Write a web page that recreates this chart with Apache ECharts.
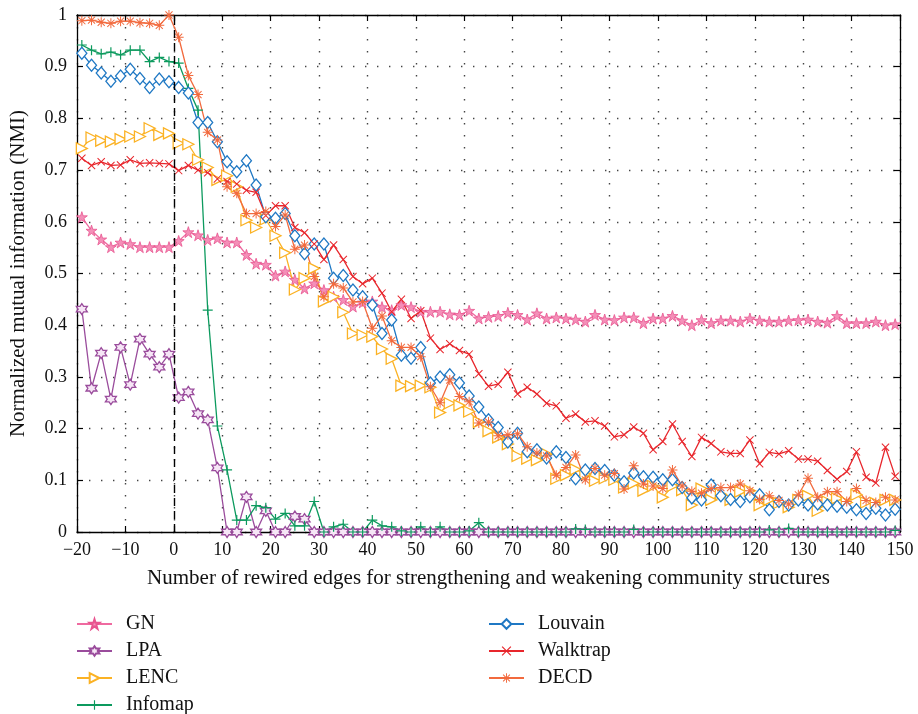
<!DOCTYPE html>
<html><head><meta charset="utf-8">
<script src="https://cdn.jsdelivr.net/npm/echarts@6/dist/echarts.min.js"></script>
<style>html,body{margin:0;padding:0;background:#fff}#c{width:918px;height:714px}</style>
</head><body><div id="c"></div>
<script>
const xValues = [-19,-17,-15,-13,-11,-9,-7,-5,-3,-1,
1,3,5,7,9,11,13,15,17,19,
21,23,25,27,29,31,33,35,37,39,
41,43,45,47,49,51,53,55,57,59,
61,63,65,67,69,71,73,75,77,79,
81,83,85,87,89,91,93,95,97,99,
101,103,105,107,109,111,113,115,117,119,
121,123,125,127,129,131,133,135,137,139,
141,143,145,147,149];

const GN = [.609,.583,.566,.551,.560,.557,.551,.551,.551,.551,
.563,.580,.574,.565,.568,.560,.560,.536,.519,.517,
.496,.504,.488,.471,.481,.468,.455,.449,.436,.444,
.446,.435,.429,.439,.435,.426,.426,.426,.421,.420,
.428,.413,.416,.418,.424,.420,.411,.423,.413,.415,
.413,.411,.407,.420,.411,.410,.415,.415,.404,.413,
.413,.418,.409,.400,.410,.404,.409,.409,.407,.413,
.409,.407,.407,.409,.410,.411,.407,.405,.418,.404,
.404,.404,.407,.400,.402];

const LPA = [.431,.278,.346,.257,.357,.285,.373,.344,.319,.344,
.260,.271,.229,.217,.124,0,0,.068,0,.041,
0,0,.030,.025,0,0,0,0,0,0,
0,0,0,0,0,0,0,0,0,0,
0,0,0,0,0,0,0,0,0,0,
0,0,0,0,0,0,0,0,0,0,
0,0,0,0,0,0,0,0,0,0,
0,0,0,0,0,0,0,0,0,0,
0,0,0,0,0];

const LENC = [.742,.763,.757,.755,.760,.765,.765,.781,.768,.771,
.752,.750,.720,.705,.681,.689,.668,.603,.589,.605,
.573,.540,.469,.491,.510,.446,.455,.425,.384,.381,
.378,.354,.335,.283,.282,.283,.280,.231,.249,.245,
.233,.213,.195,.183,.170,.147,.142,.139,.151,.103,
.110,.121,.112,.099,.104,.101,.086,.094,.080,.089,
.067,.089,.081,.052,.084,.062,.073,.062,.078,.080,
.052,.062,.056,.048,.062,.070,.041,.059,.065,.057,
.072,.057,.056,.062,.062];

const Infomap = [.942,.932,.925,.928,.923,.932,.932,.910,.918,.910,
.907,.858,.816,.429,.205,.120,.023,.023,.051,.047,
.025,.036,.012,.012,.059,0,.010,.015,0,0,
.023,.012,.010,.002,0,.010,0,.010,0,0,
.002,.018,0,0,0,0,0,0,0,0,
0,.006,.005,0,0,0,0,.005,0,0,
0,0,0,0,0,0,0,0,0,0,
0,.004,0,.007,0,0,0,0,0,0,
0,0,0,0,.003];

const Louvain = [.926,.903,.888,.872,.882,.895,.877,.860,.876,.871,
.860,.849,.792,.792,.755,.716,.697,.718,.671,.610,
.607,.616,.573,.538,.557,.557,.491,.496,.468,.455,
.439,.384,.410,.342,.336,.357,.288,.300,.304,.288,
.263,.242,.217,.202,.174,.191,.155,.159,.143,.155,
.144,.103,.120,.123,.119,.110,.097,.114,.107,.106,
.101,.101,.086,.066,.062,.091,.070,.063,.059,.068,
.072,.043,.059,.052,.062,.052,.054,.052,.050,.048,
.043,.036,.046,.033,.044];

const Walktrap = [.723,.709,.716,.709,.710,.720,.713,.714,.713,.712,
.699,.709,.700,.695,.683,.678,.673,.661,.657,.612,
.631,.631,.589,.579,.557,.527,.555,.527,.494,.480,
.491,.462,.426,.450,.413,.428,.375,.353,.364,.351,
.344,.306,.282,.286,.309,.267,.280,.267,.249,.244,
.220,.228,.213,.215,.205,.184,.188,.203,.191,.159,
.175,.209,.175,.146,.183,.171,.155,.152,.152,.178,
.132,.154,.151,.157,.141,.141,.137,.119,.102,.117,
.155,.106,.095,.164,.108];

const DECD = [.989,.990,.986,.984,.988,.988,.985,.984,.980,1.0,
.957,.883,.846,.773,.758,.668,.655,.616,.616,.620,
.591,.613,.547,.555,.494,.455,.480,.472,.445,.446,
.394,.418,.370,.357,.357,.339,.281,.250,.294,.262,
.252,.211,.213,.186,.188,.190,.165,.153,.147,.110,
.125,.149,.101,.123,.110,.113,.083,.128,.093,.089,
.084,.120,.089,.079,.075,.084,.086,.086,.093,.080,
.063,.070,.061,.054,.072,.104,.067,.078,.078,.059,
.084,.061,.057,.067,.062];

const xTicks = {min: -20, max: 150, interval: 10};
const yTicks = {min: 0, max: 1, interval: 0.1};

const FONT = '"Liberation Serif", "DejaVu Serif", serif';
const SYM = {
  star: 'path://M50,0L61.2,34.5L97.6,34.5L68.2,55.9L79.4,90.5L50,69.1L20.6,90.5L31.8,55.9L2.4,34.5L38.8,34.5Z',
  hexagram: 'path://M50,0L35.6,25L6.7,25L21.1,50L6.7,75L35.6,75L50,100L64.4,75L93.3,75L78.9,50L93.3,25L64.4,25Z',
  tri: 'path://M0,0L100,50L0,100Z',
  plus: 'path://M44,0H56V44H100V56H56V100H44V56H0V44H44Z',
  diamond: 'path://M50,0L100,50L50,100L0,50Z',
  cross: 'path://M0,9L9,0L100,91L91,100Z M91,0L100,9L9,100L0,91Z',
  asterisk: 'path://M45,0H55V100H45Z M0,45H100V55H0Z M11.1,18.1L18.1,11.1L88.9,81.9L81.9,88.9Z M81.9,11.1L88.9,18.1L18.1,88.9L11.1,81.9Z'
};

function mk(name, vals, color, symbol, size, fill, border, bw) {
  return {
    name, type: 'line', data: xValues.map((x, i) => [x, vals[i]]),
    color: color,
    symbol: symbol, symbolSize: size, showSymbol: true,
    lineStyle: {color: color, width: 1.3},
    itemStyle: {color: fill, borderColor: border, borderWidth: bw},
    emphasis: {disabled: true},
    animation: false, z: 3
  };
}

const series = [
  mk('GN', GN, '#ef6aa0', SYM.star, 11, '#f48fb8', '#e8548f', 0.8),
  mk('LPA', LPA, '#9a4c9c', SYM.hexagram, 11, '#f6e6f6', '#9a4c9c', 1.3),
  mk('LENC', LENC, '#fbb224', SYM.tri, 11, '#ffffff', '#fbb224', 1.3),
  mk('Infomap', Infomap, '#0c9a5e', SYM.plus, 10, '#0c9a5e', '#0c9a5e', 0),
  mk('Louvain', Louvain, '#1f78c4', SYM.diamond, [10, 12], '#ffffff', '#1f78c4', 1.3),
  mk('Walktrap', Walktrap, '#e8262c', SYM.cross, 8, '#e8262c', '#e8262c', 0),
  mk('DECD', DECD, '#f26a3e', SYM.asterisk, 10, '#f26a3e', '#f26a3e', 0)
];
series[0].markLine = {
  silent: true, symbol: 'none', label: {show: false}, animation: false,
  lineStyle: {color: '#000', type: [8, 5], width: 1.4},
  data: [{xAxis: 0}]
};

const axisLine = {show: true, onZero: false, lineStyle: {color: '#000', width: 1.3}};
const axisTick = {show: true, inside: true, length: 6, lineStyle: {color: '#000', width: 1.2}};
const split = {show: true, lineStyle: {color: '#444', width: 1.4, type: [1.4, 10.6]}};
const labelStyle = {color: '#111', fontFamily: FONT, fontSize: 18};
const minus = v => (v < 0 ? '\u2212' + (-v) : String(v));

const legendText = {color: '#111', fontFamily: FONT, fontSize: 20, padding: [0, 0, 0, 9]};

const option = {
  backgroundColor: '#fff',
  animation: false,
  grid: {left: 76, right: 18, top: 15, bottom: 182, containLabel: false},
  xAxis: [
    {type: 'value', position: 'bottom', ...xTicks, axisLine, axisTick, splitLine: split,
     axisLabel: {...labelStyle, margin: 9, formatter: minus},
     name: 'Number of rewired edges for strengthening and weakening community structures',
     nameLocation: 'middle', nameGap: 36,
     nameTextStyle: {color: '#111', fontFamily: FONT, fontSize: 21}},
    {type: 'value', position: 'top', ...xTicks, axisLine, axisTick, splitLine: {show: false},
     axisLabel: {show: false}}
  ],
  yAxis: [
    {type: 'value', position: 'left', ...yTicks, axisLine, axisTick, splitLine: split,
     axisLabel: {...labelStyle, margin: 10, formatter: v => (v === 0 ? '0' : v === 1 ? '1' : v.toFixed(1))},
     name: 'Normalized mutual information (NMI)', nameLocation: 'middle', nameGap: 48,
     nameTextStyle: {color: '#111', fontFamily: FONT, fontSize: 21}},
    {type: 'value', position: 'right', ...yTicks, axisLine, axisTick, splitLine: {show: false},
     axisLabel: {show: false}}
  ],
  legend: [
    {data: ['GN', 'LPA', 'LENC', 'Infomap'], orient: 'vertical', left: 76, top: 614, height: 140, padding: 0,
     itemWidth: 35, itemHeight: 12, itemGap: 7, selectedMode: false, textStyle: legendText},
    {data: ['Louvain', 'Walktrap', 'DECD'], orient: 'vertical', left: 488, top: 614, height: 140, padding: 0,
     itemWidth: 35, itemHeight: 12, itemGap: 7, selectedMode: false, textStyle: legendText}
  ],
  series
};
const chart = echarts.init(document.getElementById('c'));
chart.setOption(option);
</script>
</body></html>
